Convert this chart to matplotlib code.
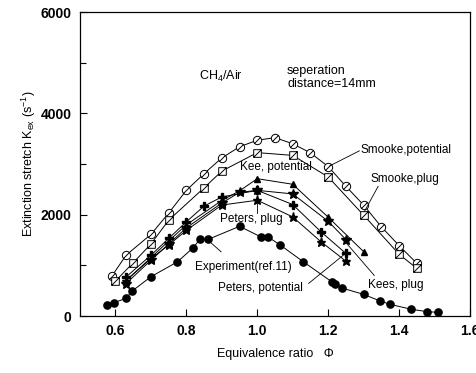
import matplotlib
matplotlib.use("Agg")
import matplotlib.pyplot as plt
from matplotlib.path import Path
import numpy as np

plt.rcParams['font.family'] = ['Liberation Sans', 'DejaVu Sans']

# ---- data ----
smooke_pot_x = [0.59, 0.63, 0.70, 0.75, 0.80, 0.85, 0.90, 0.95, 1.00, 1.05, 1.10, 1.15, 1.20, 1.25, 1.30, 1.35, 1.40, 1.45]
smooke_pot_y = [790, 1200, 1610, 2030, 2480, 2810, 3120, 3340, 3470, 3520, 3400, 3220, 2950, 2560, 2190, 1760, 1390, 1040]

smooke_plug_x = [0.60, 0.65, 0.70, 0.75, 0.85, 0.90, 1.00, 1.10, 1.20, 1.30, 1.40, 1.45]
smooke_plug_y = [690, 1050, 1420, 1890, 2530, 2860, 3225, 3170, 2745, 1990, 1220, 940]

kee_pot_x = [0.63, 0.70, 0.75, 0.80, 0.90, 0.95, 1.00, 1.10, 1.20, 1.30]
kee_pot_y = [700, 1150, 1480, 1800, 2280, 2470, 2710, 2600, 1950, 1270]

kees_plug_x = [0.63, 0.70, 0.75, 0.80, 0.90, 0.95, 1.00, 1.10, 1.20, 1.25]
kees_plug_y = [640, 1100, 1420, 1740, 2230, 2440, 2480, 2410, 1870, 1510]

peters_pot_x = [0.63, 0.70, 0.75, 0.80, 0.85, 0.90, 1.00, 1.10, 1.18, 1.25]
peters_pot_y = [770, 1200, 1530, 1860, 2170, 2350, 2480, 2200, 1660, 1235]

peters_plug_x = [0.63, 0.70, 0.75, 0.80, 0.90, 1.00, 1.10, 1.18, 1.25]
peters_plug_y = [700, 1130, 1400, 1690, 2190, 2285, 1956, 1464, 1083]

exp_x = [0.577, 0.595, 0.63, 0.647, 0.70, 0.775, 0.819, 0.838, 0.861, 0.95, 1.01, 1.03, 1.065, 1.13,
         1.21, 1.22, 1.24, 1.30, 1.345, 1.375, 1.435, 1.48, 1.51]
exp_y = [217, 262, 348, 492, 775, 1070, 1346, 1511, 1511, 1770, 1562, 1562, 1400, 1070,
         676, 640, 550, 427, 300, 230, 132, 85, 73]

x_ticks = [0.6, 0.8, 1.0, 1.2, 1.4, 1.6]
y_ticks = [0, 2000, 4000, 6000]

# ---- custom slashed markers ----
circ = Path.unit_circle()
slash = Path([[-0.75, -0.75], [0.75, 0.75]], [Path.MOVETO, Path.LINETO])
circle_slash = Path.make_compound_path(circ, slash)
sq_slash = Path([[-1, -1], [1, -1], [1, 1], [-1, 1], [-1, -1], [-1, -1], [1, 1]],
                [Path.MOVETO, Path.LINETO, Path.LINETO, Path.LINETO, Path.CLOSEPOLY,
                 Path.MOVETO, Path.LINETO])

fig = plt.figure(figsize=(4.77, 3.73), dpi=100)
ax = fig.add_axes([0.1677, 0.1528, 0.8176, 0.815])

lw = 0.7
ax.plot(smooke_pot_x, smooke_pot_y, color='black', lw=lw, marker=circle_slash, ms=6,
        mfc='white', mec='black', mew=0.7)
ax.plot(smooke_plug_x, smooke_plug_y, color='black', lw=lw, marker=sq_slash, ms=5.5,
        mfc='white', mec='black', mew=0.7)
ax.plot(kee_pot_x, kee_pot_y, color='black', lw=lw, marker='^', ms=5, mfc='black', mec='black')
ax.plot(kees_plug_x, kees_plug_y, color='black', lw=lw, marker='*', ms=7, mfc='black', mec='black')
ax.plot(peters_pot_x, peters_pot_y, color='black', lw=lw, marker='P', ms=5.5, mfc='black', mec='black')
ax.plot(peters_plug_x, peters_plug_y, color='black', lw=lw, marker='*', ms=6.5, mfc='black', mec='black')
ax.plot(exp_x, exp_y, color='black', lw=lw, marker='o', ms=5.2, mfc='black', mec='black')

ax.set_xlim(0.5, 1.6)
ax.set_ylim(0, 6000)
ax.set_xticks(x_ticks)
ax.set_xticklabels([f"{v:.1f}" for v in x_ticks], fontsize=10, fontweight='bold')
ax.set_yticks(y_ticks)
ax.set_yticklabels([str(v) for v in y_ticks], fontsize=10, fontweight='bold')
ax.set_yticks([1000, 3000, 5000], minor=True)
ax.tick_params(direction='in', length=5, width=0.8, pad=6)
ax.tick_params(which='minor', direction='in', length=4, width=0.8)
for s in ax.spines.values():
    s.set_linewidth(0.9)

ax.set_ylabel(r"Extinction stretch K$_{\mathregular{ex}}$ (s$^{\mathregular{-1}}$)", fontsize=9, labelpad=2)
ax.set_xlabel("Equivalence ratio   \u03a6", fontsize=9, labelpad=7)

fs = 8.5
ax.text(0.835, 4730, r"CH$_{\mathregular{4}}$/Air", fontsize=9, va='center')
ax.text(1.084, 4710, "seperation\ndistance=14mm", fontsize=9, va='center', linespacing=1.1)

ax.text(1.291, 3270, "Smooke,potential", fontsize=fs, va='center')
ax.plot([1.288, 1.205], [3260, 2965], color='black', lw=0.6)
ax.text(1.319, 2713, "Smooke,plug", fontsize=fs, va='center')
ax.plot([1.341, 1.302], [2560, 2060], color='black', lw=0.6)
ax.text(0.951, 2945, "Kee, potential", fontsize=fs, va='center')
ax.text(0.896, 1911, "Peters, plug", fontsize=fs, va='center')
ax.plot([1.0, 1.0], [2250, 2030], color='black', lw=0.6)
ax.text(0.824, 960, "Experiment(ref.11)", fontsize=fs, va='center')
ax.plot([0.861, 0.898], [1497, 1267], color='black', lw=0.6)
ax.text(0.888, 552, "Peters, potential", fontsize=fs, va='center')
ax.plot([1.145, 1.243], [644, 1202], color='black', lw=0.6)
ax.text(1.311, 611, "Kees, plug", fontsize=fs, va='center')
ax.plot([1.33, 1.25], [800, 1450], color='black', lw=0.6)

fig.savefig("out.png", dpi=100)
